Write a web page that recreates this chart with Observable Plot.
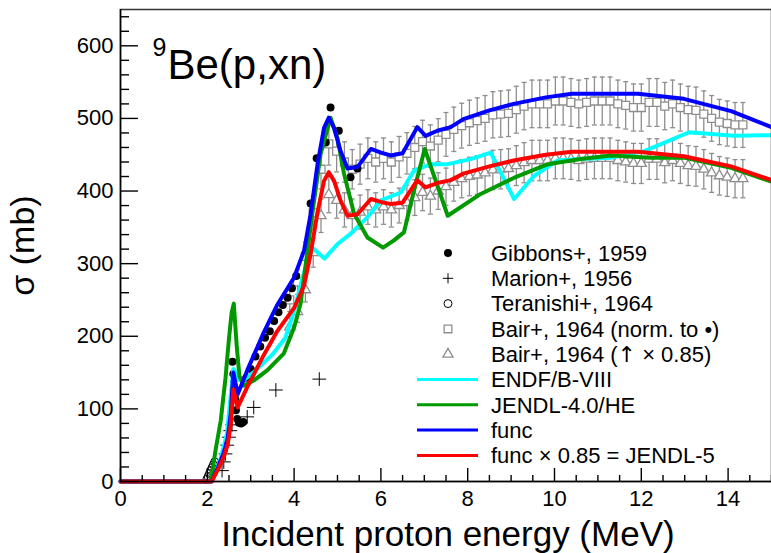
<!DOCTYPE html>
<html><head><meta charset="utf-8">
<script src="https://cdn.jsdelivr.net/npm/d3@7"></script>
<script src="https://cdn.jsdelivr.net/npm/@observablehq/plot@0.6"></script>
<style>body{margin:0;background:#fff;} svg{display:block;}</style>
</head><body><div id="chart"></div>
<script>
// ---------- data ----------
const funcE  = [0, 2.10, 2.25, 2.38, 2.47, 2.54, 2.60, 2.70, 2.92, 3.30, 3.60, 4.00, 4.23, 4.38, 4.54, 4.69, 4.80, 4.92, 5.07, 5.23, 5.46, 5.77, 6.00, 6.23, 6.50, 6.84, 7.03, 7.30, 7.61, 7.90, 8.50, 9.06, 9.80, 10.40, 11.92, 12.98, 14.07, 15.00];
const funcXS = [0, 0, 20, 40, 60, 93, 150, 120, 153, 205, 242, 281, 318, 368, 437, 487, 501, 487, 455, 431, 433, 458, 453, 449, 452, 488, 476, 483, 488, 499, 511, 520, 529, 534, 534, 527, 510, 488];
const jendl5E  = [0, 2.10, 2.25, 2.38, 2.47, 2.54, 2.60, 2.70, 2.92, 3.30, 3.60, 4.00, 4.23, 4.38, 4.54, 4.69, 4.80, 4.92, 5.07, 5.23, 5.46, 5.77, 6.00, 6.23, 6.50, 6.84, 7.03, 7.30, 7.61, 7.90, 8.50, 9.06, 9.80, 10.40, 11.92, 12.98, 14.07, 15.00];
const jendl5XS = [0, 0, 17, 34, 51, 79, 127, 102, 130, 174, 206, 239, 270, 313, 371, 414, 426, 414, 387, 366, 368, 389, 385, 382, 384, 415, 405, 411, 415, 424, 434, 442, 450, 454, 454, 448, 434, 415];
const jendlHeE  = [0, 2.06, 2.11, 2.19, 2.31, 2.42, 2.50, 2.56, 2.61, 2.68, 2.74, 2.84, 3.07, 3.38, 3.76, 4.00, 4.15, 4.22, 4.42, 4.61, 4.84, 5.00, 5.15, 5.38, 5.69, 6.05, 6.30, 6.53, 6.76, 7.01, 7.54, 8.30, 9.06, 9.85, 10.60, 11.30, 12.22, 12.98, 14.07, 15.00];
const jendlHeXS = [0, 0, 11, 43, 84, 143, 197, 232, 245, 185, 145, 132, 139, 153, 176, 212, 245, 277, 369, 451, 501, 473, 424, 369, 336, 322, 332, 343, 400, 458, 366, 396, 418, 437, 444, 449, 446, 446, 432, 413];
const endfE  = [0, 2.10, 2.30, 2.45, 2.60, 2.66, 2.72, 2.85, 3.10, 3.50, 3.80, 4.00, 4.20, 4.42, 4.70, 5.00, 5.30, 5.69, 6.00, 6.46, 6.76, 7.15, 7.54, 8.07, 8.53, 9.07, 9.53, 10.07, 10.60, 11.30, 12.07, 13.10, 14.14, 15.00];
const endfXS = [0, 0, 30, 65, 155, 150, 140, 140, 152, 175, 198, 235, 282, 322, 307, 327, 341, 364, 387, 398, 428, 437, 437, 444, 453, 389, 421, 442, 444, 446, 455, 481, 476, 477];

const gibbonsE  = [2.58, 2.60, 2.62, 2.64, 2.66, 2.69, 2.73, 2.78, 2.83, 2.90, 3.00, 3.11, 3.22, 3.33, 3.44, 3.54, 3.64, 3.74, 3.85, 3.95, 4.05, 4.38, 4.52, 4.73, 4.84, 5.03, 5.30, 5.46];
const gibbonsXS = [165, 148, 130, 114, 98, 86, 81, 80, 82, 143, 155, 172, 186, 198, 207, 221, 233, 243, 253, 266, 283, 383, 445, 467, 515, 483, 419, 431];
const marionE  = [2.34, 2.38, 2.42, 2.46, 2.50, 2.53, 2.57, 2.92, 3.07, 3.58, 4.58];
const marionXS = [15, 27, 38, 50, 61, 70, 78, 89, 102, 126, 141];
const teranishiE  = [1.99, 2.02, 2.05, 2.08, 2.11, 2.14, 2.17];
const teranishiXS = [3, 7, 11, 15, 19, 23, 27];

const bairE = [3.90, 4.08, 4.26, 4.44, 4.62, 4.80, 4.98, 5.16, 5.34, 5.52, 5.70, 5.88, 6.06, 6.24, 6.42, 6.60, 6.78, 6.96, 7.14, 7.32, 7.50, 7.68, 7.86, 8.04, 8.22, 8.40, 8.58, 8.76, 8.94, 9.12, 9.30, 9.48, 9.66, 9.84, 10.02, 10.20, 10.38, 10.56, 10.74, 10.92, 11.10, 11.28, 11.46, 11.64, 11.82, 12.00, 12.18, 12.36, 12.54, 12.72, 12.90, 13.08, 13.26, 13.44, 13.62, 13.80, 13.98, 14.16, 14.34];
const bairNormXS = [250, 275, 310, 370, 430, 465, 455, 440, 430, 437, 445, 440, 445, 440, 447, 452, 460, 468, 462, 470, 478, 485, 490, 494, 497, 500, 505, 506, 507, 512, 517, 520, 520, 520, 524, 524, 522, 520, 522, 524, 524, 524, 520, 518, 515, 515, 522, 522, 517, 520, 515, 512, 511, 506, 500, 495, 493, 491, 491];
const bairScaledXS = [213, 234, 264, 315, 366, 395, 387, 374, 366, 371, 378, 374, 378, 374, 380, 384, 391, 398, 393, 400, 406, 412, 417, 420, 422, 425, 429, 430, 431, 435, 439, 442, 442, 442, 445, 445, 444, 442, 444, 445, 445, 445, 442, 440, 438, 438, 444, 444, 439, 442, 438, 435, 434, 430, 425, 421, 419, 417, 417];
const bairRelErr = 0.063; // error bars are about 6% of the value

const xMajorTicks = [0, 2, 4, 6, 8, 10, 12, 14];
const yMajorTicks = [0, 100, 200, 300, 400, 500, 600];
const legendLabels = ["Gibbons+, 1959", "Marion+, 1956", "Teranishi+, 1964", "Bair+, 1964 (norm. to \u2022)", ["Bair+, 1964 (", "\u2191", " \u00d7 0.85)"], "ENDF/B-VIII", "JENDL-4.0/HE", "func", "func \u00d7 0.85 = JENDL-5"];

// ---------- build ----------
const pts = (E, S) => E.map((e, i) => ({e, s: S[i]}));
const func = pts(funcE, funcXS), jendl5 = pts(jendl5E, jendl5XS), jendlHe = pts(jendlHeE, jendlHeXS), endf = pts(endfE, endfXS);
const gibbons = pts(gibbonsE, gibbonsXS), marion = pts(marionE, marionXS), teranishi = pts(teranishiE, teranishiXS);
const bair = bairE.map((e, i) => ({e, norm: bairNormXS[i], scaled: bairScaledXS[i]}));

const gray = "#8e8e8e";
const cCyan = "#00ffff", cGreen = "#009a00", cBlue = "#0000ff", cRed = "#ff0000";
const W = 771, H = 553, mL = 120, mT = 9, mR = 0, mB = 72;
const fw = W - mL - mR, fh = H - mT - mB;
const xDomain = [0, 15], yDomain = [0, 650];
const FONT = "'Liberation Sans', Arial, sans-serif";
const capSym = {draw(ctx) { ctx.moveTo(-2.5, 0); ctx.lineTo(2.5, 0); }};
const xMinor = d3.range(0, 15.01, 0.5).filter(v => v % 2 !== 0);
const yMinor = d3.range(0, 650, 20).filter(v => v % 100 !== 0);

const errMarks = k => [
  Plot.ruleX(bair, {x: "e", y1: d => d[k] * (1 - bairRelErr), y2: d => d[k] * (1 + bairRelErr), stroke: gray, strokeWidth: 1.3}),
  Plot.dot(bair, {x: "e", y: d => d[k] * (1 + bairRelErr), symbol: capSym, stroke: gray, strokeWidth: 1.3}),
  Plot.dot(bair, {x: "e", y: d => d[k] * (1 - bairRelErr), symbol: capSym, stroke: gray, strokeWidth: 1.3})
];

const svg = Plot.plot({
  width: W, height: H, marginLeft: mL, marginTop: mT, marginRight: mR, marginBottom: mB,
  style: {fontFamily: FONT, fontSize: "22px", color: "black", background: "white", overflow: "visible"},
  x: {domain: xDomain},
  y: {domain: yDomain},
  marks: [
    ...errMarks("norm"), ...errMarks("scaled"),
    Plot.dot(bair, {x: "e", y: "norm", symbol: "square", r: 4.5, stroke: gray, strokeWidth: 1.3, fill: "white"}),
    Plot.dot(bair, {x: "e", y: "scaled", symbol: "triangle", r: 3.8, stroke: gray, strokeWidth: 1.3, fill: "white"}),
    Plot.dot(teranishi, {x: "e", y: "s", symbol: "circle", r: 4, stroke: "black", strokeWidth: 1, fill: "none"}),
    Plot.dot(marion, {x: "e", y: "s", symbol: "plus", r: 4.5, stroke: "black", strokeWidth: 1}),
    Plot.dot(gibbons, {x: "e", y: "s", symbol: "circle", r: 4, fill: "black"}),
    Plot.line(endf, {x: "e", y: "s", stroke: cCyan, strokeWidth: 4}),
    Plot.line(jendlHe, {x: "e", y: "s", stroke: cGreen, strokeWidth: 4}),
    Plot.line(func, {x: "e", y: "s", stroke: cBlue, strokeWidth: 4}),
    Plot.line(jendl5, {x: "e", y: "s", stroke: cRed, strokeWidth: 4}),
    Plot.frame({stroke: "#333", strokeWidth: 1.5}),
    Plot.ruleX([0], {stroke: "black", strokeWidth: 1.5}),
    Plot.ruleY([0], {stroke: "black", strokeWidth: 1.5}),
    // inward ROOT-style ticks
    Plot.tickY(yMajorTicks, {y: d => d, insetRight: fw - 18, stroke: "black", strokeWidth: 1.4}),
    Plot.tickY(yMinor, {y: d => d, insetRight: fw - 9, stroke: "black", strokeWidth: 1.4}),
    Plot.tickX(xMajorTicks, {x: d => d, insetTop: fh - 13, stroke: "black", strokeWidth: 1.4}),
    Plot.tickX(xMinor, {x: d => d, insetTop: fh - 6, stroke: "black", strokeWidth: 1.4}),
    Plot.axisY({ticks: yMajorTicks, tickSize: 0, tickPadding: 7, fontSize: 22, label: null}),
    Plot.axisX({ticks: xMajorTicks, tickSize: 0, tickPadding: 9, fontSize: 22, label: null}),
    Plot.text(["Incident proton energy (MeV)"], {text: d => d, frameAnchor: "bottom", dx: 2, dy: 64, lineAnchor: "bottom", fontSize: 35}),
    Plot.text(["\u03c3 (mb)"], {text: d => d, frameAnchor: "left", rotate: -90, dx: -87, lineAnchor: "bottom", textAnchor: "middle", fontSize: 34}),
    Plot.text(["9"], {text: d => d, frameAnchor: "top-left", dx: 32, dy: 46, lineAnchor: "bottom", textAnchor: "start", fontSize: 25}),
    Plot.text(["Be(p,xn)"], {text: d => d, frameAnchor: "top-left", dx: 47, dy: 69, lineAnchor: "bottom", textAnchor: "start", fontSize: 42})
  ]
});

// ---------- legend (inside the frame, ROOT style) ----------
const lg = d3.select(svg).append("g").attr("font-family", FONT).attr("font-size", 22).attr("text-anchor", "start");
const rowY = i => 253 + i * 25.3;
const mx = 448, tx = 491;
const sym = (type, size) => d3.symbol(type, size)();
lg.append("path").attr("d", sym(d3.symbolCircle, 50)).attr("transform", `translate(${mx},${rowY(0)})`).attr("fill", "black");
lg.append("path").attr("d", sym(d3.symbolPlus, 36)).attr("transform", `translate(${mx},${rowY(1)})`).attr("fill", "none").attr("stroke", "black").attr("stroke-width", 1);
lg.append("path").attr("d", sym(d3.symbolCircle, 50)).attr("transform", `translate(${mx},${rowY(2)})`).attr("fill", "none").attr("stroke", "black").attr("stroke-width", 1);
lg.append("path").attr("d", sym(d3.symbolSquare, 60)).attr("transform", `translate(${mx},${rowY(3)})`).attr("fill", "none").attr("stroke", gray).attr("stroke-width", 1.3);
lg.append("path").attr("d", sym(d3.symbolTriangle, 45)).attr("transform", `translate(${mx},${rowY(4)})`).attr("fill", "none").attr("stroke", gray).attr("stroke-width", 1.3);
[cCyan, cGreen, cBlue, cRed].forEach((c, j) => {
  lg.append("line").attr("x1", 417).attr("x2", 478).attr("y1", rowY(5 + j)).attr("y2", rowY(5 + j)).attr("stroke", c).attr("stroke-width", 3);
});
legendLabels.forEach((t, i) => {
  const el = lg.append("text").attr("x", tx).attr("y", rowY(i)).attr("dy", "0.35em").attr("fill", "black").attr("text-anchor", "start");
  if (Array.isArray(t)) {
    el.append("tspan").text(t[0]);
    el.append("tspan").attr("font-family", "'DejaVu Sans'").attr("fill", "black").text(t[1]);
    el.append("tspan").text(t[2]);
  } else el.text(t);
});

document.getElementById("chart").appendChild(svg);
</script>
</body></html>
